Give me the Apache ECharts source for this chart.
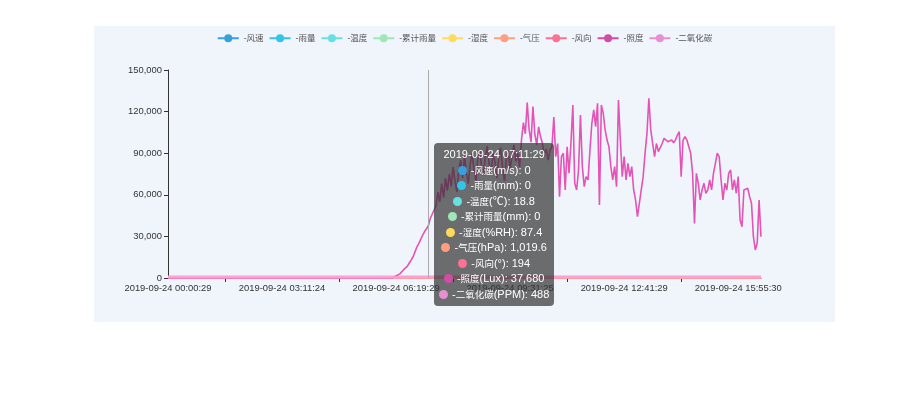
<!DOCTYPE html>
<html>
<head>
<meta charset="utf-8">
<script src="https://cdn.jsdelivr.net/npm/echarts@6/dist/echarts.min.js"></script>
<style>
html,body{margin:0;padding:0;background:#fff;width:900px;height:393px;overflow:hidden;}
#chart{position:absolute;left:94px;top:26px;width:741px;height:296px;background:#f0f5fc;}
</style>
</head>
<body>
<div id="chart"></div>
<script>
// ---- data ----
const labelTimes = ['2019-09-24 00:00:29','2019-09-24 03:11:24','2019-09-24 06:19:29','2019-09-24 09:31:25','2019-09-24 12:41:29','2019-09-24 15:55:30'];
const tooltipTime = '2019-09-24 07:11:29';
const tooltipIndex = 137;
const categoryCount = 313;
const labelStep = 60;

const seriesNames = ['-风速(m/s)','-雨量(mm)','-温度(℃)','-累计雨量(mm)','-湿度(%RH)','-气压(hPa)','-风向(°)','-照度(Lux)','-二氧化碳(PPM)'];
const colors = ['#37A2DA','#32C5E9','#67E0E3','#9FE6B8','#FFDB5C','#ff9f7f','#fb7293','#d04ca6','#E690D1'];

// near-constant series, sampled at start / tooltip point / end
const sampleIdx = [0, 137, 312];
const windSpeed = [0, 0, 0];
const rainfall = [0, 0, 0];
const temperature = [17.6, 18.8, 24.2];
const totalRain = [0, 0, 0];
const humidity = [92.1, 87.4, 66.3];
const pressure = [1019.2, 1019.6, 1017.4];
const windDir = [187, 194, 201];
const co2 = [492, 488, 455];

// illuminance, one value per category
const illuminance = [
0,0,0,0,0,0,0,0,0,0,
0,0,0,0,0,0,0,0,0,0,
0,0,0,0,0,0,0,0,0,0,
0,0,0,0,0,0,0,0,0,0,
0,0,0,0,0,0,0,0,0,0,
0,0,0,0,0,0,0,0,0,0,
0,0,0,0,0,0,0,0,0,0,
0,0,0,0,0,0,0,0,0,0,
0,0,0,0,0,0,0,0,0,0,
0,0,0,0,0,0,0,0,0,0,
0,0,0,0,0,0,0,0,0,0,
0,0,0,0,0,0,0,0,0,200,
1500,2500,3000,4500,6000,7000,8500,11000,13000,15500,
19000,22500,25000,28000,31000,33500,35500,37680,43000,46000,
47000,52000,62000,55000,68000,58000,72000,63000,75000,66000,
80000,70000,62000,78000,85000,72000,88000,76000,68000,82000,
90000,78000,70000,86000,92000,80000,74000,88000,95000,82000,
76000,90000,84000,72000,86000,94000,80000,70000,85000,92000,
78000,88000,96000,84000,90000,80000,100000,112000,104000,126500,
107000,98000,123600,104000,96000,109000,102000,97000,88000,93000,
85000,92000,94700,116000,87500,97000,58700,87500,90000,63500,
94700,75500,97000,124800,68300,63500,77900,117600,80300,65900,
73100,70700,92300,111600,121200,109200,126000,52700,124800,118800,
106800,99500,94700,80300,70700,80300,65900,128400,99500,73100,
87500,70700,82700,73100,80300,63500,56300,44200,53900,63500,
73100,90000,104300,129600,106800,97000,87500,97000,91100,92300,
97000,100700,99500,98300,97000,99500,97600,99500,103100,105500,
73100,99500,101900,99500,99500,90000,75500,39400,75500,68300,
56300,63500,68300,61100,63500,70700,63500,75500,82700,90000,
87500,70700,56300,68300,63500,75500,77900,63500,70700,61100,
73100,41800,37000,63500,63500,64700,58700,53900,29800,20200,
25000,56300,29800
];

// ---- category names (anchored on the readable timestamps) ----
function toSec(s){const t=s.split(' ')[1].split(':').map(Number);return t[0]*3600+t[1]*60+t[2];}
function toStr(sec){sec=Math.round(sec);const h=Math.floor(sec/3600),m=Math.floor(sec%3600/60),s=sec%60;const p=n=>String(n).padStart(2,'0');return '2019-09-24 '+p(h)+':'+p(m)+':'+p(s);}
const anchors = labelTimes.map((t,k)=>[k*labelStep,toSec(t)]);
anchors.splice(3,0,[tooltipIndex,toSec(tooltipTime)]);
const categories = [];
for(let i=0;i<categoryCount;i++){
  let a=anchors[0],b=anchors[1];
  for(let k=0;k<anchors.length-1;k++){ if(i>=anchors[k][0]){a=anchors[k];b=anchors[k+1];} }
  if(i>=anchors[anchors.length-1][0]){a=anchors[anchors.length-2];b=anchors[anchors.length-1];}
  const sec=a[1]+(b[1]-a[1])*(i-a[0])/(b[0]-a[0]);
  categories.push(toStr(sec));
}
categories[tooltipIndex]=tooltipTime;
labelTimes.forEach((t,k)=>categories[k*labelStep]=t);

const small = [windSpeed,rainfall,temperature,totalRain,humidity,pressure,windDir];
const series = [];
small.forEach((arr,k)=>{
  series.push({name:seriesNames[k],type:'line',symbol:'none',
    data:arr.map((v,j)=>[sampleIdx[j],v])});
});
series.push({name:seriesNames[7],type:'line',symbol:'none',lineStyle:{width:1.6},data:illuminance});
series.push({name:seriesNames[8],type:'line',symbol:'none',data:co2.map((v,j)=>[sampleIdx[j],v])});

const chart = echarts.init(document.getElementById('chart'));
const fam = "'Liberation Sans','Noto Sans CJK SC',sans-serif";
function cjk(s){return s.replace(/([\u4e00-\u9fff]+)/g,'<span style="font-size:9.5px">$1</span>');}
chart.setOption({
  animation:false,
  color:colors,
  textStyle:{fontFamily:fam},
  legend:{top:3,left:'center',itemWidth:21,itemHeight:10,itemGap:5,
    textStyle:{fontSize:8.5,color:'#555',fontFamily:fam},
    formatter:n=>n.replace(/\(.*\)$/,'')},
  grid:{left:74,right:74,top:44,bottom:44,containLabel:false},
  tooltip:{trigger:'axis',alwaysShowContent:true,transitionDuration:0,
    position:[340,117],
    backgroundColor:'rgba(50,50,50,0.7)',borderWidth:0,padding:[4,5],
    textStyle:{color:'#fff',fontSize:11,fontFamily:fam},
    extraCssText:'box-shadow:none;border-radius:4px;text-align:center;line-height:15.5px;',
    axisPointer:{type:'line',lineStyle:{color:'#aaa',width:1,type:'solid'}},
    formatter:function(ps){
      let s='<div>'+ps[0].axisValue+'</div>';
      ps.forEach(p=>{
        const v=Array.isArray(p.value)?p.value[1]:p.value;
        s+='<div><span style="display:inline-block;margin-right:4px;border-radius:50%;width:9px;height:9px;vertical-align:-1px;background-color:'+p.color+';"></span>'+cjk(p.seriesName)+': '+echarts.format.addCommas(v)+'</div>';
      });
      return s;
    }},
  xAxis:{type:'category',boundaryGap:false,data:categories,
    axisLine:{lineStyle:{color:'#333'}},
    axisTick:{length:4,interval:(i)=>i%labelStep===labelStep/2,lineStyle:{color:'#333'}},
    axisLabel:{interval:labelStep-1,margin:6,fontSize:9.4,color:'#333',fontFamily:fam}},
  yAxis:{type:'value',min:0,max:150000,interval:30000,
    axisLine:{show:true,lineStyle:{color:'#333'}},
    axisTick:{show:true,length:4,lineStyle:{color:'#333'}},
    splitLine:{show:false},
    axisLabel:{margin:6,fontSize:9.4,color:'#333',fontFamily:fam}},
  series:series
});
function tip(){chart.dispatchAction({type:'showTip',seriesIndex:7,dataIndex:tooltipIndex});}
tip();
setTimeout(tip,50);
</script>
</body>
</html>
